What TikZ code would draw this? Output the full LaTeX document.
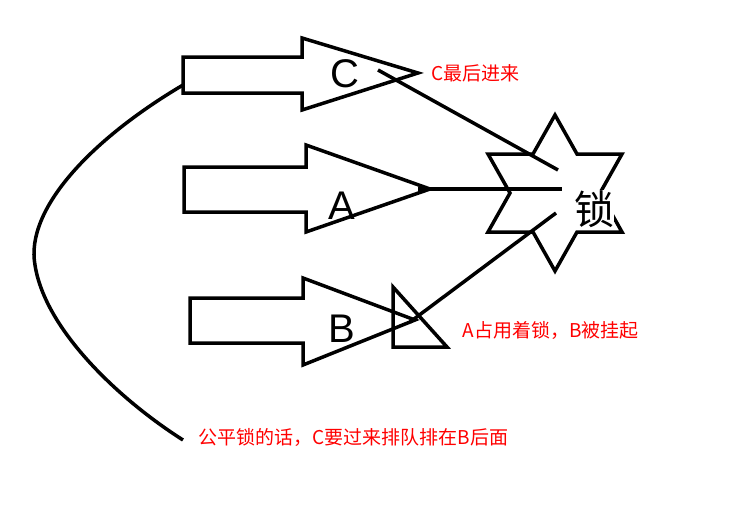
\documentclass[tikz,border=0pt]{standalone}
\usepackage{fontspec}
\setmainfont{Liberation Sans}
\newfontfamily\cjk{Noto Sans CJK SC}
\begin{document}
\begin{tikzpicture}[x=1pt,y=-1pt,line width=3.5pt,line join=miter,
  outl/.style={draw=black},
  note/.style={text=red,font=\cjk\fontsize{19}{21}\selectfont,inner sep=0pt},
  big/.style={font=\fontsize{40}{42}\selectfont,inner sep=0pt}]
\useasboundingbox (0,0) rectangle (743,527);
\fill[white] (0,0) rectangle (743,527);
% arrows
\draw[outl] (183,57)--(302,57)--(302,38)--(418,73)--(302,110)--(302,93)--(183,93)--cycle;
\draw[outl] (184,167)--(306,167)--(306,145)--(430,189)--(306,232)--(306,212)--(184,212)--cycle;
\draw[outl] (190,298)--(303,298)--(303,278)--(415,320)--(303,365)--(303,343)--(190,343)--cycle;
\node[big] (C) at (345,74) {C};
\node[big] (A) at (342,206) {A};
\node[big] (B) at (342,329) {B};
% triangle
\draw[outl] (393,287)--(393,347)--(447,347)--cycle;
% star
\draw[outl] (555,115)--(577,154)--(622,154)--(600,193)--(622,232)--(577,232)--(555,271)--(533,232)--(488,232)--(510,193)--(488,154)--(533,154)--cycle;
\node[font=\cjk\fontsize{40}{42}\selectfont,inner sep=0pt,fill=white] (lock) at (594,209) {锁};
% connectors
\coordinate (ce) at (558,170);
\coordinate (ae) at (562,189);
\coordinate (be) at (556,213);
\draw (378,70)--(ce);
\draw (418,189)--(ae);
\draw (410,322)--(be);
% curve
\draw (183,85) .. controls (90,140) and (25,210) .. (35,265) .. controls (45,330) and (120,400) .. (183,440);
% notes
\node[note,anchor=west] (n1) at (430,73) {C最后进来};
\node[note,anchor=west] (n2) at (461,330) {A占用着锁，B被挂起};
\node[note,anchor=west] (n3) at (197,437) {公平锁的话，C要过来排队排在B后面};
\end{tikzpicture}
\end{document}
